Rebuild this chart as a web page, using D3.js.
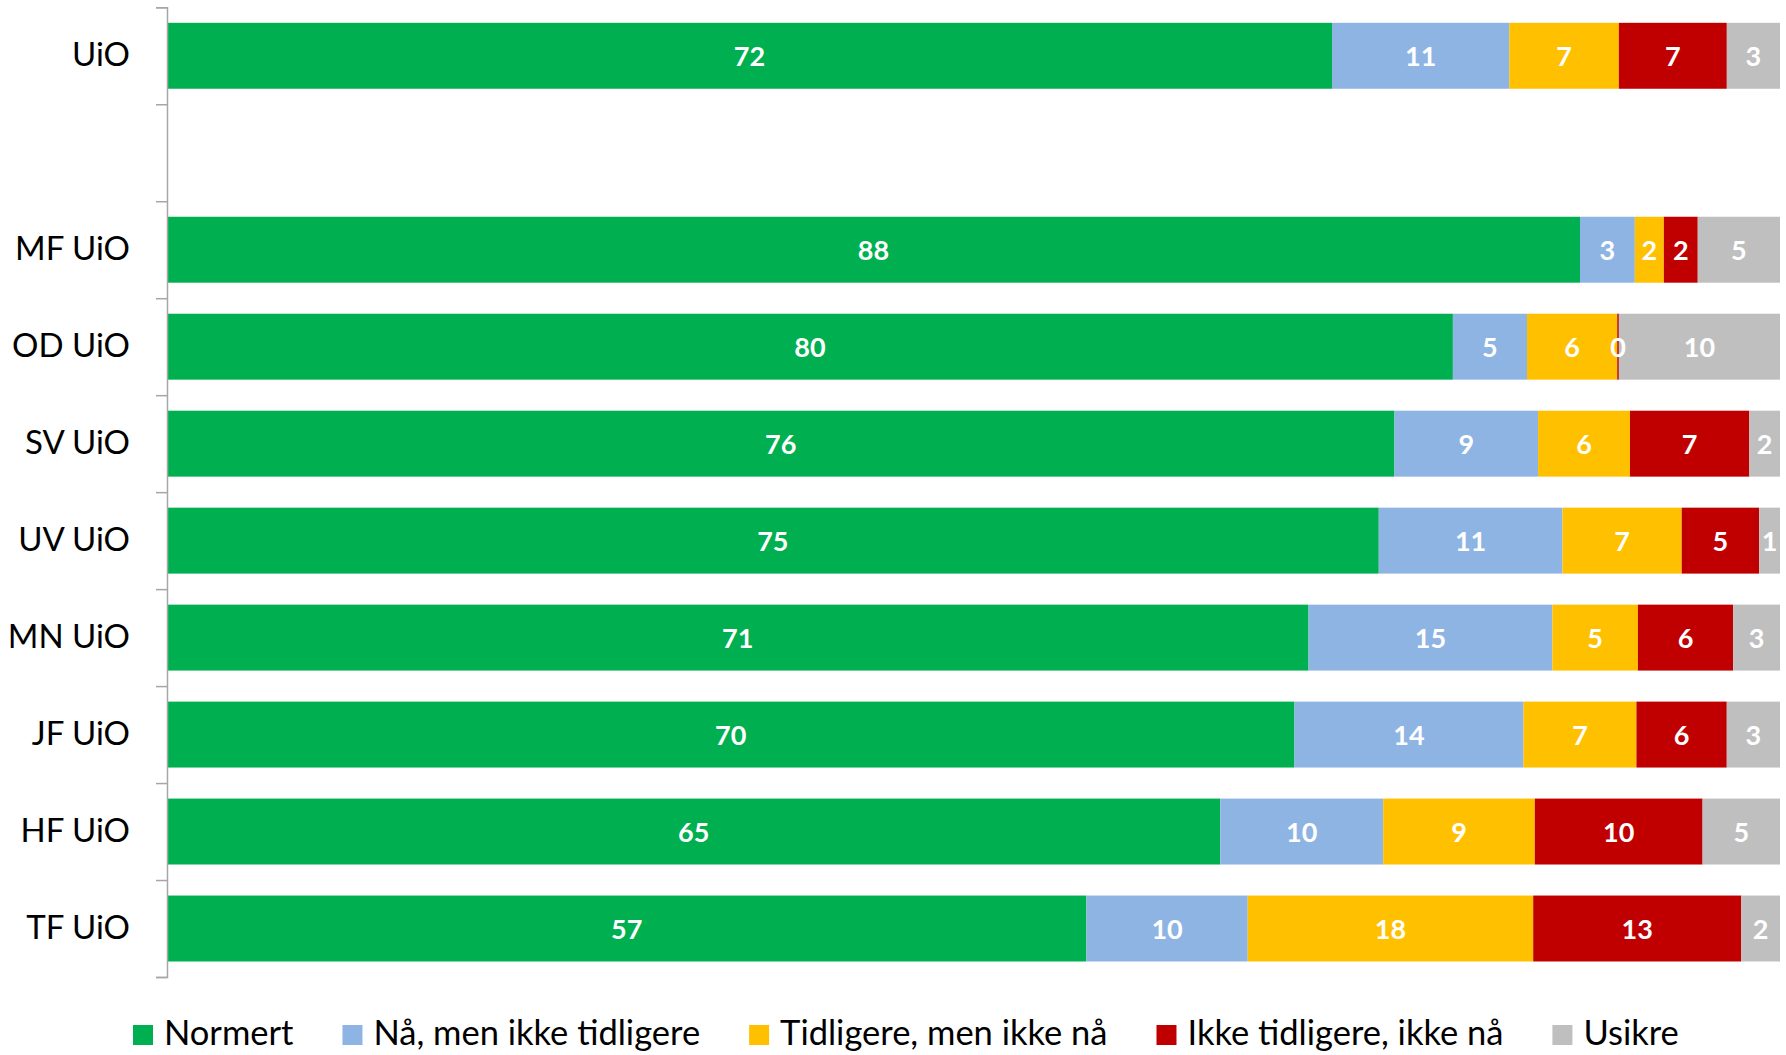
<!DOCTYPE html>
<html>
<head>
<meta charset="utf-8">
<script src="https://cdn.jsdelivr.net/npm/d3@7"></script>
<style>
  html, body { margin: 0; padding: 0; background: #fff; }
  svg { display: block; font-family: Lato, "Open Sans", sans-serif; }
</style>
</head>
<body>
<svg id="chart" width="1786" height="1055"></svg>
<script>
// ---- data (percent) ----
const categories = ["UiO", "", "MF UiO", "OD UiO", "SV UiO", "UV UiO", "MN UiO", "JF UiO", "HF UiO", "TF UiO"];
const seriesNames = ["Normert", "Nå, men ikke tidligere", "Tidligere, men ikke nå", "Ikke tidligere, ikke nå", "Usikre"];
const normert   = [72.3, null, 87.6, 79.8, 76.1, 75.2, 70.7, 69.9, 65.3, 57.0];
const naIkkeTid = [11.0, null,  3.4,  4.6,  8.9, 11.4, 15.1, 14.2, 10.1, 10.0];
const tidIkkeNa = [ 6.8, null,  1.8,  5.6,  5.7,  7.4,  5.3,  7.0,  9.4, 17.7];
const ikkeIkke  = [ 6.7, null,  2.1,  0.1,  7.4,  4.8,  5.9,  5.6, 10.4, 12.9];
const usikre    = [ 3.3, null,  5.1, 10.0,  1.9,  1.3,  2.9,  3.3,  4.8,  2.4];
const colors = ["#00B050", "#8EB4E3", "#FFC000", "#C00000", "#BFBFBF"];

(function () {
// ---- build table ----
const seriesArrays = [normert, naIkkeTid, tidIkkeNa, ikkeIkke, usikre];
const keys = seriesNames;
const rows = categories.map((c, i) => {
  const r = { cat: c, empty: normert[i] === null };
  keys.forEach((k, j) => r[k] = seriesArrays[j][i] === null ? 0 : seriesArrays[j][i]);
  return r;
});

const svg = d3.select("#chart");
const mLeft = 167, mRight = 1780, mTop = 7.3, mBottom = 977;

const x = d3.scaleLinear().domain([0, 1]).range([mLeft, mRight]);
const y = d3.scaleBand().domain(categories).range([mTop, mBottom]).paddingInner(0.32).paddingOuter(0.16);
const color = d3.scaleOrdinal().domain(keys).range(colors);

const stacked = d3.stack().keys(keys).offset(d3.stackOffsetExpand)(rows.filter(r => !r.empty));

const layer = svg.append("g").selectAll("g").data(stacked).join("g")
  .attr("fill", d => color(d.key));

layer.selectAll("rect").data(d => d.map(p => ({p, key: d.key}))).join("rect")
  .attr("x", d => x(d.p[0]))
  .attr("y", d => y(d.p.data.cat))
  .attr("width", d => Math.max(0, x(d.p[1]) - x(d.p[0])))
  .attr("height", y.bandwidth());

// data labels
const lbl = svg.append("g");
stacked.forEach(s => {
  s.forEach(p => {
    lbl.append("text")
      .attr("x", (x(p[0]) + x(p[1])) / 2)
      .attr("y", y(p.data.cat) + y.bandwidth() / 2)
      .attr("text-anchor", "middle")
      .attr("dominant-baseline", "central")
      .attr("fill", "#fff")
      .attr("font-weight", "bold")
      .attr("font-size", 27)
      .text(Math.round(p.data[s.key]));
  });
});

// axis line with ticks at category boundaries
const yb = d3.scaleLinear().domain([0, categories.length]).range([mTop, mBottom]);
const axisG = svg.append("g").attr("transform", `translate(${mLeft},0)`)
  .call(d3.axisLeft(yb).ticks(categories.length).tickSize(11).tickSizeOuter(11).tickFormat(""));
axisG.selectAll("path, line").attr("stroke", "#A6A6A6").attr("stroke-width", 1.5);

// category labels
const labG = svg.append("g").attr("transform", `translate(${mLeft},0)`)
  .call(d3.axisLeft(y).tickSize(0).tickPadding(37));
labG.select(".domain").remove();
labG.selectAll("text").attr("font-size", 33).attr("fill", "#000").attr("font-family", "Lato, sans-serif");

// legend
const leg = svg.append("g");
let cx = 0;
keys.forEach((k, i) => {
  const g = leg.append("g");
  g.append("rect").attr("x", 0).attr("y", -10).attr("width", 20).attr("height", 20).attr("fill", colors[i]);
  const t = g.append("text").attr("x", 31).attr("y", 10)
    .attr("font-size", 34.5).attr("fill", "#000").text(k);
  const w = 31 + t.node().getComputedTextLength();
  g.attr("transform", `translate(${cx},1035)`);
  cx += w + 49;
});
leg.attr("transform", `translate(133,0)`);
})();
</script>
</body>
</html>
